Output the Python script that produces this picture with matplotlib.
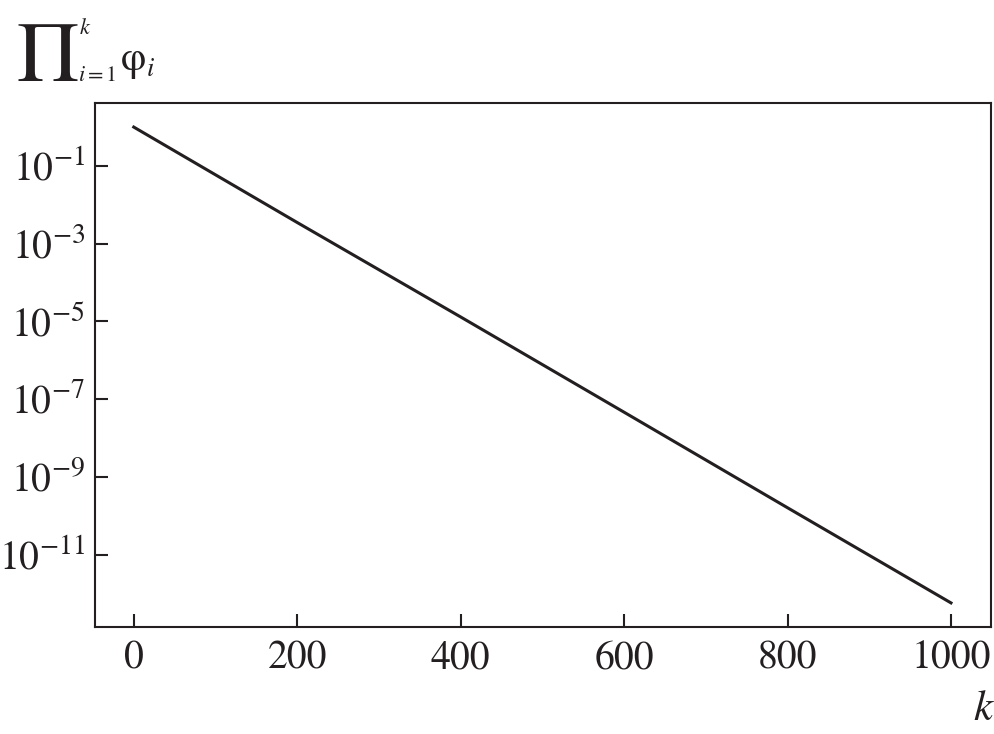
import matplotlib
matplotlib.use("Agg")
import matplotlib.pyplot as plt

plt.rcParams['font.family'] = 'STIXGeneral'
plt.rcParams['mathtext.fontset'] = 'stix'

# значения
k = [0, 200, 400, 600, 800, 1000]
prod_phi = [1.0, 3.5e-3, 1.3e-5, 4.6e-8, 1.6e-10, 5.7e-13]
y_ticks = [1e-1, 1e-3, 1e-5, 1e-7, 1e-9, 1e-11]
x_ticks = [0, 200, 400, 600, 800, 1000]

ink = '#231f20'
W, H = 995, 734

fig = plt.figure(figsize=(W / 100, H / 100), dpi=100)
ax = fig.add_axes([0.095, 0.1462, 0.901, 0.7131])

ax.plot(k, prod_phi, color=ink, lw=2.2)
ax.set_yscale('log')
ax.set_xlim(-48, 1049)
ax.set_yticks(y_ticks)
ax.yaxis.set_minor_locator(matplotlib.ticker.NullLocator())
ax.set_xticks(x_ticks)

for s in ax.spines.values():
    s.set_linewidth(1.5)
    s.set_color(ink)
ax.tick_params(direction='in', length=9.5, width=1.5, color=ink,
               labelsize=28.5, labelcolor=ink, pad=10)
ax.tick_params(axis='y', pad=7)

# подпись оси y: произведение
def px(x, y):
    return x / W, 1 - y / H

fig.text(*px(17, 81), 'Π', fontsize=62, color=ink, va='baseline')
fig.text(*px(79, 34), '$k$', fontsize=16, color=ink, va='baseline')
fig.text(*px(78, 81), '$i=1$', fontsize=16, color=ink, va='baseline')
fig.text(*px(121, 70), 'φ', fontsize=29, color=ink, va='baseline')
fig.text(*px(146, 76), '$i$', fontsize=19, color=ink, va='baseline')

# подпись оси x
fig.text(*px(973, 720), '$k$', fontsize=31, color=ink, va='baseline')

fig.savefig('out.png', dpi=100)
